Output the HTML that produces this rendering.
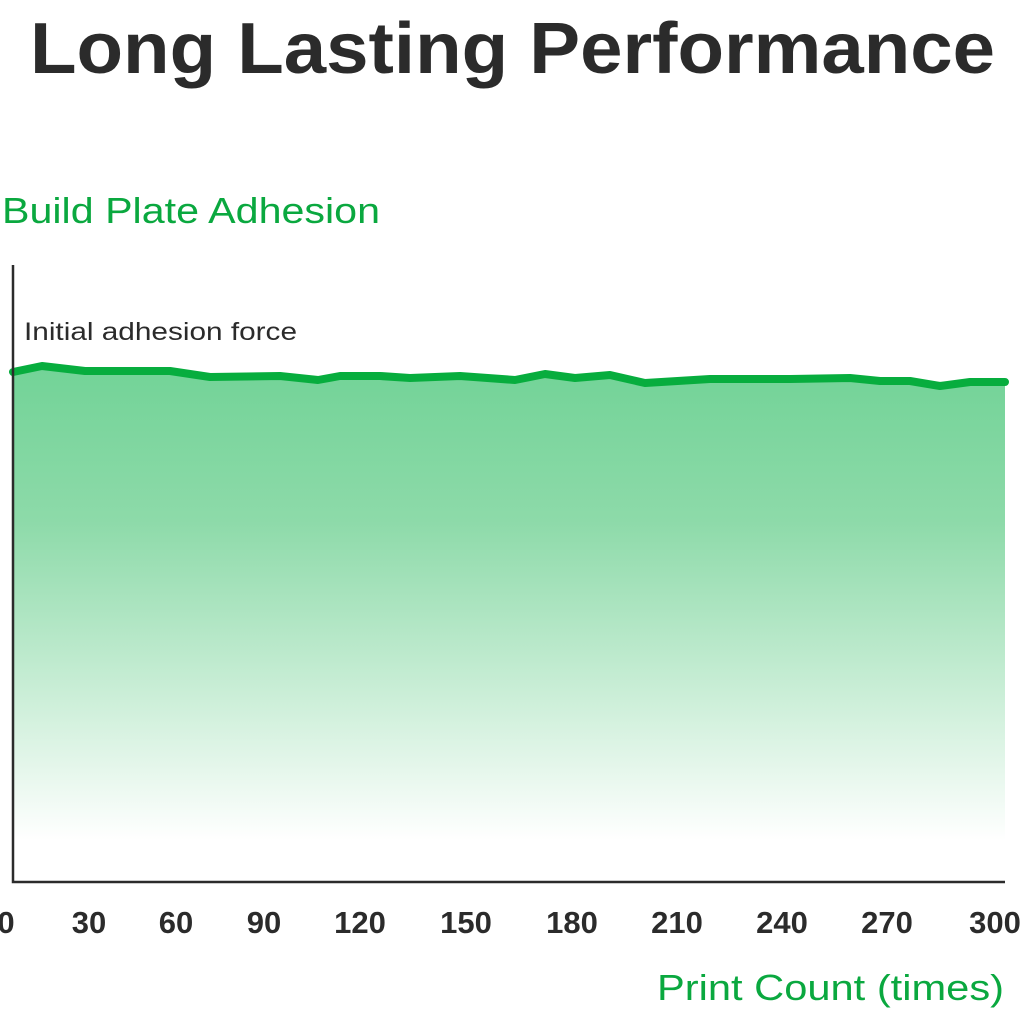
<!DOCTYPE html>
<html><head><meta charset="utf-8"><style>
html,body{margin:0;padding:0;background:#fff;}
body{width:1024px;height:1024px;position:relative;overflow:hidden;font-family:"Liberation Sans",sans-serif;}
</style></head><body>
<svg width="1024" height="1024" viewBox="0 0 1024 1024" xmlns="http://www.w3.org/2000/svg">
<defs>
<linearGradient id="g" x1="0" y1="0" x2="0" y2="1">
<stop offset="0" stop-color="#72d397"/>
<stop offset="0.3" stop-color="#8ddaa9"/>
<stop offset="0.65" stop-color="#cdefd9"/>
<stop offset="0.92" stop-color="#ffffff"/>
</linearGradient>
</defs>
<text x="30" y="73" textLength="965" lengthAdjust="spacingAndGlyphs" font-family="Liberation Sans, sans-serif" font-size="72" fill="#2b2b2b" font-weight="bold">Long Lasting Performance</text>
<text x="2" y="223" textLength="378" lengthAdjust="spacingAndGlyphs" font-family="Liberation Sans, sans-serif" font-size="36" fill="#0aa83f">Build Plate Adhesion</text>
<text x="24" y="340" textLength="273" lengthAdjust="spacingAndGlyphs" font-family="Liberation Sans, sans-serif" font-size="25" fill="#2b2b2b">Initial adhesion force</text>
<path d="M13,372 L42,366 L85,371 L170,371 L210,377 L280,376 L318,380 L340,376 L380,376 L410,378 L460,376 L515,380 L545,374 L575,378 L610,375 L645,383 L710,379 L790,379 L850,378 L880,381 L910,381 L940,386 L970,382 L1005,382 L1005,882 L13,882 Z" fill="url(#g)"/>
<path d="M13,372 L42,366 L85,371 L170,371 L210,377 L280,376 L318,380 L340,376 L380,376 L410,378 L460,376 L515,380 L545,374 L575,378 L610,375 L645,383 L710,379 L790,379 L850,378 L880,381 L910,381 L940,386 L970,382 L1005,382" fill="none" stroke="#07ad3e" stroke-width="8" stroke-linejoin="round" stroke-linecap="round"/>
<path d="M13,265 L13,882 L1005,882" fill="none" stroke="#2b2b2b" stroke-width="2.5"/>
<g font-family="Liberation Sans Narrow, Liberation Sans, sans-serif" font-size="31" font-weight="bold" fill="#2b2b2b" text-anchor="middle">
<text x="6" y="933">0</text><text x="89" y="933">30</text><text x="176" y="933">60</text><text x="264" y="933">90</text>
<text x="360" y="933">120</text><text x="466" y="933">150</text><text x="572" y="933">180</text><text x="677" y="933">210</text>
<text x="782" y="933">240</text><text x="887" y="933">270</text><text x="995" y="933">300</text>
</g>
<text x="657" y="1000" textLength="347" lengthAdjust="spacingAndGlyphs" font-family="Liberation Sans, sans-serif" font-size="36" fill="#0aa83f">Print Count (times)</text>
</svg>
</body></html>
